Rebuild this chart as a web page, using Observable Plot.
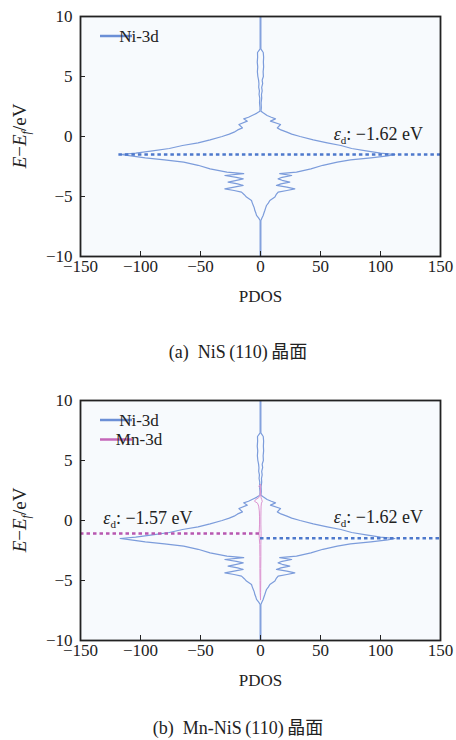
<!DOCTYPE html>
<html><head><meta charset="utf-8">
<script src="https://cdn.jsdelivr.net/npm/d3@7"></script>
<script src="https://cdn.jsdelivr.net/npm/@observablehq/plot@0.6"></script>
<style>
body{margin:0;background:#fff;width:456px;height:740px;position:relative;overflow:hidden}
.panel{position:absolute;left:0}
.panel svg, .panel svg text{font-family:'Liberation Serif','Times New Roman',serif !important}
.cap{position:absolute;left:10px;width:456px;text-align:center;font-family:'Liberation Serif','Noto Sans CJK SC',serif;font-size:18px;color:#222;line-height:22px}
</style></head><body>
<div id="a" class="panel" style="top:0"></div>
<div class="cap" style="top:341px">(a)&#8194;NiS&#8201;(110)&#8201;晶面</div>
<div id="b" class="panel" style="top:384px"></div>
<div class="cap" style="top:717px">(b)&#8194;Mn-NiS&#8201;(110)&#8201;晶面</div>
<script>
// ---- data ----
const xTicks = [-150, -100, -50, 0, 50, 100, 150];
const yTicks = [-10, -5, 0, 5, 10];

const energy = [10, 7.3, 7.0, 6.6, 6.2, 5.8, 5.4, 5.0, 4.7, 4.4, 4.1, 3.8, 3.5, 3.2, 2.8, 2.4, 2.1, 1.95, 1.75, 1.6,
  1.47, 1.28, 1.0, 0.72, 0.55, 0.36, 0.2, 0.0, -0.28, -0.53, -0.75, -1.0, -1.2, -1.38, -1.5, -1.62, -1.78, -1.95, -2.14, -2.4,
  -2.7, -2.97, -3.1, -3.25, -3.4, -3.53, -3.65, -3.8, -3.95, -4.08, -4.22, -4.36, -4.5, -4.64, -4.85, -5.05, -5.33, -5.55, -5.75, -5.95,
  -6.17, -6.4, -6.58, -6.8, -7.0, -10];
const niUp = [0.3, 0.3, 2.3, 2.6, 2.4, 2.6, 2.2, 2.4, 1.4, 1.8, 1.0, 1.4, 0.8, 1.0, 0.5, 0.7, 0.4, 2.5, 5.5, 9,
  12.5, 8.3, 16.7, 14, 17, 22, 26, 33, 44, 55.6, 67, 76, 88, 100, 112, 106, 92, 75, 64, 52,
  42, 30, 16, 26, 18, 14.7, 18, 24.4, 17, 13.3, 22, 28.6, 22, 14.7, 13, 12, 7.8, 6.5, 5, 4.3,
  3.6, 2.8, 2.2, 1.2, 0.3, 0.3];
const niDown = [-0.3, -0.3, -2.5, -2.4, -2.7, -2.3, -2.6, -2.2, -1.6, -1.3, -1.5, -0.9, -1.2, -0.6, -0.8, -0.4, -0.5, -3, -7, -10,
  -14, -11, -18, -15, -19, -22, -26, -32, -42, -52, -65, -76, -90, -104, -117, -108, -96, -80, -64, -52,
  -42, -28, -14, -29.7, -20, -14.4, -20, -27, -19, -14.4, -22, -29.7, -22, -15.8, -13.5, -11.7, -7.5, -6.8, -6, -5.2,
  -4.7, -3.8, -3.3, -1.5, -0.3, -0.3];

const mnEnergy = [3.0, 2.85, 2.7, 2.2, 1.9, 1.75, 1.6, 1.45, 1.2, 0.8, 0.3, -0.3, -0.8, -1.1, -1.5, -2.0, -3.0, -4.0, -5.0, -6.0, -6.6];
const mnUp   = [0, 0.3, 0, 0.2, 0.5, 1.0, 1.5, 0.8, 0.5, 0.4, 0.3, 0.3, 0.4, 0.5, 0.4, 0.3, 0.3, 0.2, 0.2, 0.1, 0];
const mnDown = [0, -1.5, 0, -0.3, -1.5, -4, -5, -2.5, -1.5, -1.0, -0.8, -0.8, -1.0, -1.2, -1.0, -0.6, -0.5, -0.5, -0.4, -0.3, 0];

// d-band centre reference lines (position as drawn) and their labels
const refA = [{E: -1.5, x1: -118, x2: 150, color: "#4d78cc"}];
const refB = [{E: -1.08, x1: -150, x2: 0, color: "#b857b0"}, {E: -1.47, x1: 0, x2: 150, color: "#4d78cc"}];
const labA = [{x: 61, E: 0.2, value: "−1.62 eV"}];
const labB = [{x: -131, E: 0.2, value: "−1.57 eV"}, {x: 61, E: 0.25, value: "−1.62 eV"}];

const legendA = [{name: "Ni-3d", color: "#6b8fd6"}];
const legendB = [{name: "Ni-3d", color: "#6b8fd6"}, {name: "Mn-3d", color: "#c466b8"}];

const niColor = "#7c9cdb";
const mnColor = "#dc93d0";
const FONT = "'Liberation Serif', 'Times New Roman', serif";

const rows = (E, v) => E.map((e, i) => ({E: e, v: v[i]}));

function panel(refs, labs, withMn) {
  const marks = [
    Plot.frame({fill: "#f7fafd"}),
    Plot.line(rows(energy, niUp), {x: "v", y: "E", stroke: niColor, strokeWidth: 1.2}),
    Plot.line(rows(energy, niDown), {x: "v", y: "E", stroke: niColor, strokeWidth: 1.2})
  ];
  if (withMn) {
    marks.push(Plot.line(rows(mnEnergy, mnUp), {x: "v", y: "E", stroke: mnColor, strokeWidth: 1}));
    marks.push(Plot.line(rows(mnEnergy, mnDown), {x: "v", y: "E", stroke: mnColor, strokeWidth: 1}));
  }
  marks.push(
    Plot.ruleY(refs, {y: "E", x1: "x1", x2: "x2", stroke: "color", strokeWidth: 2.5, strokeDasharray: "3.5,3"}),
    Plot.axisX({ticks: xTicks, tickSize: 0, tickPadding: 3, fontSize: 17, label: "PDOS", labelAnchor: "center", labelArrow: "none", labelOffset: 45}),
    Plot.axisX({ticks: xTicks, tickSize: -5, tickFormat: () => "", label: null}),
    Plot.axisY({ticks: yTicks, tickSize: 0, tickPadding: 8, fontSize: 17, label: null}),
    Plot.axisY({ticks: yTicks, tickSize: -5, tickFormat: () => "", label: null}),
    Plot.frame({stroke: "#222", strokeWidth: 1.8}),
    Plot.text(labs, {x: "x", y: "E", text: d => "εd: " + d.value, textAnchor: "start", fontSize: 18, fill: "#222", className: "ed"})
  );
  return Plot.plot({
    width: 456, height: 310,
    marginLeft: 80, marginRight: 16, marginTop: 16, marginBottom: 54,
    x: {domain: [-150, 150]},
    y: {domain: [-10, 10]},
    color: {type: "identity"},
    style: {fontFamily: FONT, fontSize: "17px", color: "#222", background: "transparent"},
    marks
  });
}

function decorate(svg, legend) {
  const s = d3.select(svg).attr("font-family", FONT);
  s.selectAll("text").attr("font-family", FONT);
  // subscripted epsilon labels
  s.selectAll(".ed text").each(function () {
    const t = d3.select(this);
    const rest = this.textContent.slice(2);
    t.text(null);
    t.append("tspan").attr("font-style", "italic").text("ε");
    t.append("tspan").attr("font-size", 11).attr("dy", 4).text("d");
    t.append("tspan").attr("dy", -4).text(rest);
  });
  // y axis title
  const yt = s.append("text").attr("transform", "translate(26,136) rotate(-90)")
    .attr("text-anchor", "middle").attr("font-size", 19).attr("fill", "#222")
    .attr("font-family", FONT);
  yt.append("tspan").attr("font-style", "italic").text("E");
  yt.append("tspan").text("−");
  yt.append("tspan").attr("font-style", "italic").text("E");
  yt.append("tspan").attr("font-style", "italic").attr("font-size", 12).attr("dy", 4).text("f");
  yt.append("tspan").attr("dy", -4).text("/eV");
  // legend
  const g = s.append("g").attr("font-family", FONT).attr("font-size", 17).attr("fill", "#222");
  legend.forEach((d, i) => {
    const y = 36 + i * 19.5;
    g.append("line").attr("x1", 100).attr("x2", 132).attr("y1", y).attr("y2", y)
      .attr("stroke", d.color).attr("stroke-width", 2.5);
    g.append("text").attr("x", 139).attr("y", y).attr("dy", "0.35em").text(d.name);
  });
}

const svgA = panel(refA, labA, false);
document.getElementById("a").appendChild(svgA);
decorate(svgA, legendA);

const svgB = panel(refB, labB, true);
document.getElementById("b").appendChild(svgB);
decorate(svgB, legendB);
</script>
</body></html>
